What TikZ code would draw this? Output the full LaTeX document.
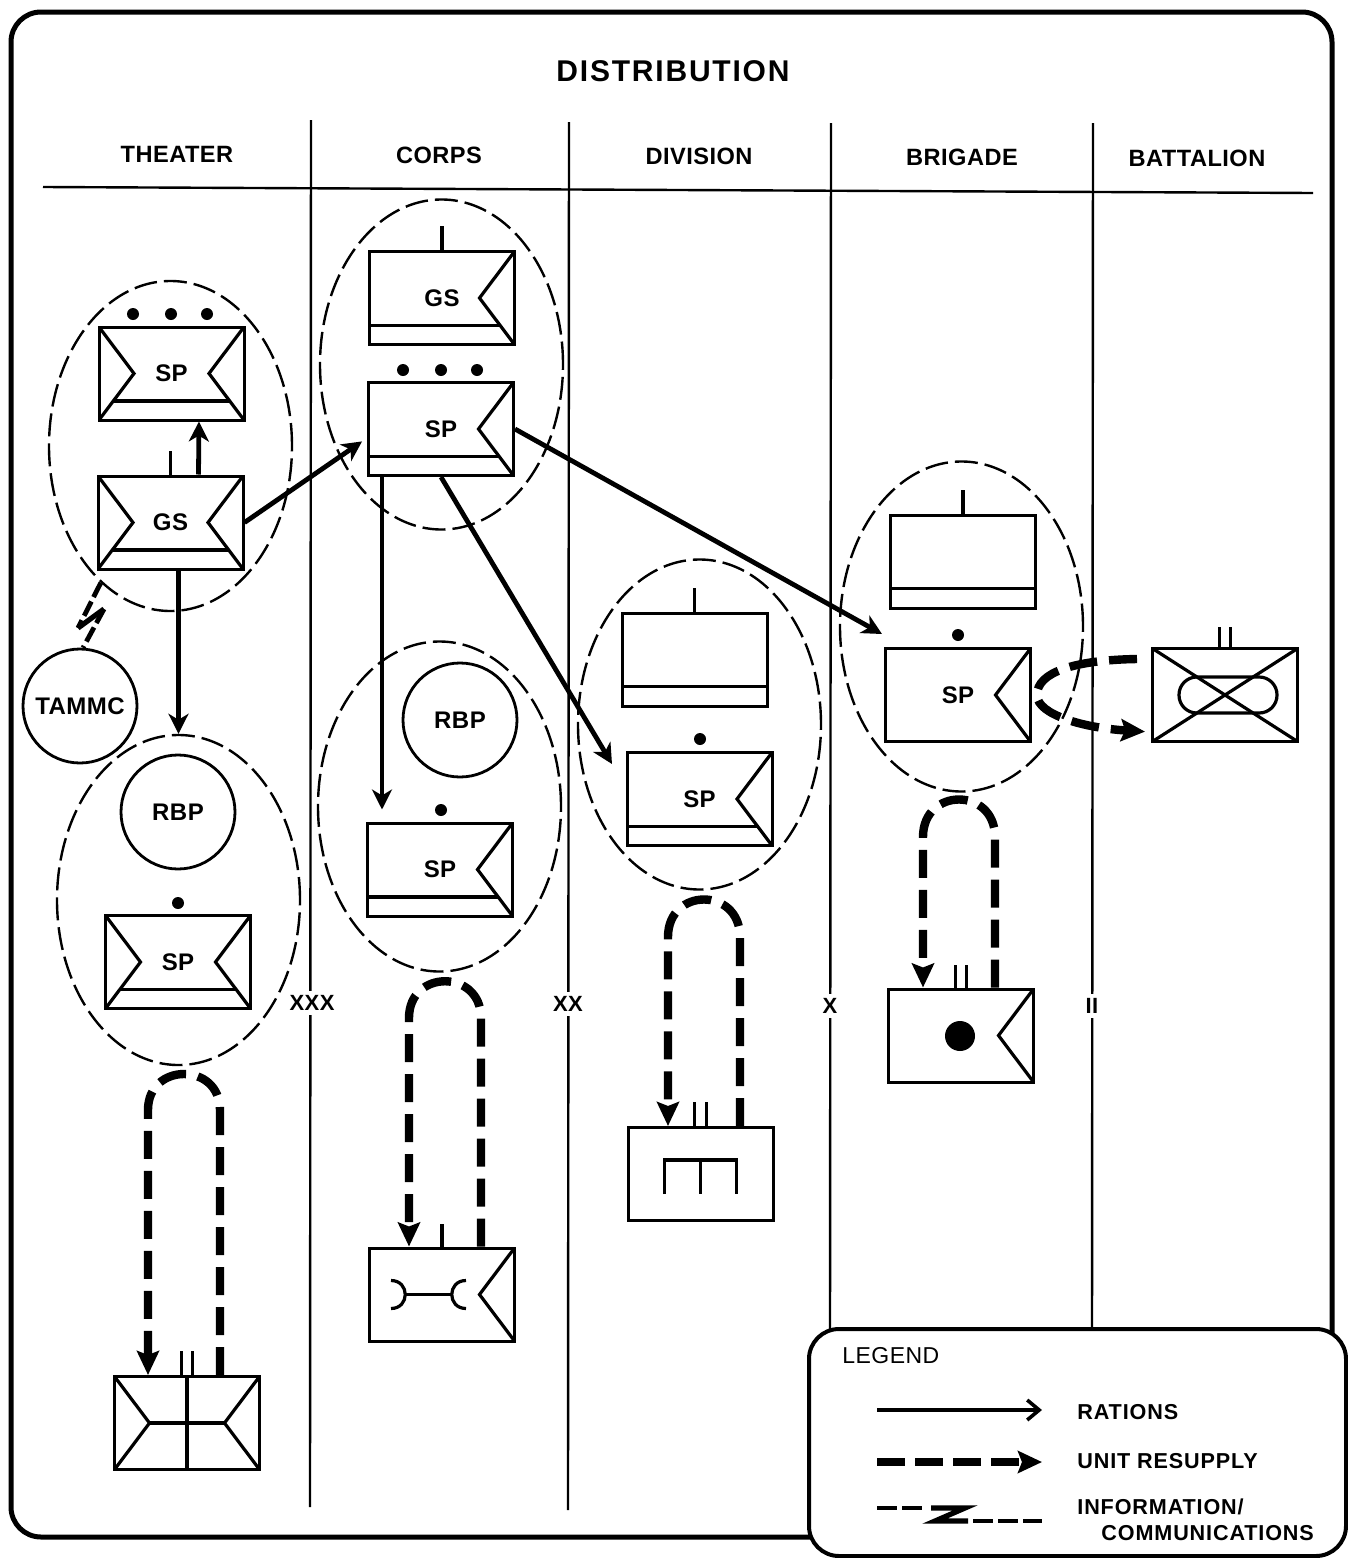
\documentclass[tikz,border=0pt]{standalone}
\usepackage{fontspec}
\setmainfont{Liberation Sans}[LetterSpace=2]
\newfontfamily\titlefont{Liberation Sans}[LetterSpace=6]
\newfontfamily\keyfont{Liberation Sans}[LetterSpace=4]
\usetikzlibrary{shapes,shapes.geometric,arrows,arrows.meta,positioning,calc}

\newcommand{\notchright}{\draw[symb] (path picture bounding box.north east) -- ([xshift=-17.5pt]path picture bounding box.east) -- (path picture bounding box.south east);}
\newcommand{\notchleft}{\draw[symb] (path picture bounding box.north west) -- ([xshift=17.5pt]path picture bounding box.west) -- (path picture bounding box.south west);}
\newcommand{\barinner}{\draw[symb] ([xshift=7.25pt,yshift=-13.75pt]path picture bounding box.west) -- ([xshift=-7.25pt,yshift=-13.75pt]path picture bounding box.east);}
\newcommand{\barright}{\draw[symb] ([yshift=-13.75pt]path picture bounding box.west) -- ([xshift=-7.25pt,yshift=-13.75pt]path picture bounding box.east);}
\newcommand{\barfull}{\draw[symb] ([yshift=-13.5pt]path picture bounding box.west) -- ([yshift=-13.5pt]path picture bounding box.east);}

\begin{document}
\begin{tikzpicture}[
    x=0.5pt, y=-0.5pt,
    symb/.style={line width=1.6pt},
    unit/.style={draw, rectangle, line width=1.5pt, minimum width=72.5pt, minimum height=46.5pt, inner sep=0pt, font=\fontsize{12}{14}\selectfont\bfseries},
    twonotch/.style={unit, path picture={\notchleft\notchright\barinner}},
    onenotch/.style={unit, path picture={\notchright\barright}},
    plainbar/.style={unit, path picture={\barfull}},
    zone/.style={draw, ellipse, dashed, dash pattern=on 11.5pt off 3.5pt, line width=1.2pt, inner sep=0pt, minimum width=121.5pt, minimum height=165pt},
    round/.style={draw, circle, line width=1.4pt, inner sep=0pt, minimum size=57pt, font=\fontsize{12}{14}\selectfont\bfseries},
    dot/.style={fill=black, circle, inner sep=0pt, minimum size=6pt},
    head/.style={font=\fontsize{11.8}{14}\selectfont\bfseries},
    level/.style={fill=white, inner sep=2pt, font=\fontsize{11}{14}\selectfont\bfseries},
    key/.style={anchor=west, inner sep=0pt, font=\keyfont\fontsize{10.8}{13}\selectfont\bfseries},
    rule/.style={line width=1.2pt},
    ration/.style={draw, line width=2.4pt, -{Stealth[length=10pt,width=10pt,inset=3pt]}},
    resupply/.style={draw, line width=4.2pt, dash pattern=on 14pt off 6pt, -{Stealth[length=12pt,width=11pt,inset=2pt]}},
    info/.style={draw, line width=2.4pt, dash pattern=on 8pt off 2.5pt},
    zig/.style={draw, line width=2.6pt}
]
\useasboundingbox (0,0) rectangle (1348,1558);

% outer frame and columns
\node[draw, rectangle, rounded corners=15pt, line width=2.5pt, minimum width=660.5pt, minimum height=762.5pt] (frame) at (671.5,774.5) {};
\node[font=\titlefont\fontsize{15}{18}\selectfont\bfseries] (title) at (673,71) {DISTRIBUTION};
\node[head] (theater) at (177,154) {THEATER};
\node[head] (corps) at (439,155) {CORPS};
\node[head] (division) at (699,156) {DIVISION};
\node[head] (brigade) at (962,157) {BRIGADE};
\node[head] (battalion) at (1197,158) {BATTALION};

\coordinate (ruleL) at (43,187);
\coordinate (ruleR) at (1313,193);
\draw[rule] (ruleL) -- (ruleR);
\coordinate (col1a) at (311,120);
\coordinate (col1b) at (310,1507);
\coordinate (col2a) at (569,122);
\coordinate (col2b) at (568,1510);
\coordinate (col3a) at (831,123);
\coordinate (col3b) at (830,1340);
\coordinate (col4a) at (1093,123);
\coordinate (col4b) at (1092,1340);
\draw[rule] (col1a) -- (col1b);
\draw[rule] (col2a) -- (col2b);
\draw[rule] (col3a) -- (col3b);
\draw[rule] (col4a) -- (col4b);
\node[level] (xxx) at (312,1003) {XXX};
\node[level] (xx) at (568,1004) {XX};
\node[level] (x) at (830,1006) {X};
\node[level] (ii) at (1092,1006) {II};

% support areas
\node[zone] (zoneTa) at (170.5,446) {};
\node[zone] (zoneTb) at (178.5,900) {};
\node[zone] (zoneCa) at (441.5,364.5) {};
\node[zone] (zoneCb) at (439.5,806.5) {};
\node[zone] (zoneD) at (699.5,724.5) {};
\node[zone] (zoneB) at (961.5,626.5) {};

% theater
\node[twonotch] (spTa) at (171.5,373.5) {SP};
\node[twonotch] (gsT) at (170.5,522.5) {GS};
\node[twonotch] (spTb) at (178,962) {SP};
\node[round] (tammc) at (80,706) {TAMMC};
\node[round] (rbpT) at (178,812) {RBP};
\node[dot] (dotTa) at (133,314) {};
\node[dot] (dotTb) at (171,314) {};
\node[dot] (dotTc) at (207,314) {};
\node[dot] (dotTd) at (178,903) {};
\draw[symb] (gsT.north) -- ++(0,-24);

% corps
\node[onenotch] (gsC) at (442,298) {GS};
\node[onenotch] (spCa) at (441,429) {SP};
\node[onenotch] (spCb) at (440,869.5) {SP};
\node[round] (rbpC) at (460,720) {RBP};
\node[dot] (dotCa) at (403,370) {};
\node[dot] (dotCb) at (441,370) {};
\node[dot] (dotCc) at (477,370) {};
\node[dot] (dotCd) at (441,810) {};
\draw[symb] (gsC.north) -- ++(0,-24);

% division and brigade
\node[plainbar] (hqD) at (694.5,659.5) {};
\node[onenotch] (spD) at (699.5,799) {SP};
\node[dot] (dotD) at (700,739) {};
\draw[symb] (hqD.north) -- ++(0,-24);
\node[plainbar] (hqB) at (963,561.5) {};
\node[unit, path picture={\notchright}] (spB) at (958,695) {SP};
\node[dot] (dotB) at (958,635) {};
\draw[symb] (hqB.north) -- ++(0,-24);

% battalion
\node[unit, path picture={
    \draw[symb] (path picture bounding box.north west) -- (path picture bounding box.south east);
    \draw[symb] (path picture bounding box.south west) -- (path picture bounding box.north east);
    \draw[symb, rounded corners=8.9pt] ([xshift=-23pt,yshift=9pt]path picture bounding box.center) rectangle ([xshift=26pt,yshift=-9pt]path picture bounding box.center);
}] (batU) at (1225,695) {};
\draw[symb] ([xshift=-2.75pt]batU.north) -- ++(0,-20);
\draw[symb] ([xshift=2.75pt]batU.north) -- ++(0,-20);

% customer units
\node[unit, path picture={\notchright}] (custB) at (961,1035.5) {};
\node[dot, minimum size=15pt] (custBdot) at (960,1036) {};
\draw[symb] ([xshift=-2.75pt]custB.north) -- ++(0,-23);
\draw[symb] ([xshift=2.75pt]custB.north) -- ++(0,-23);

\node[unit, path picture={
    \draw[symb] ([xshift=-18pt,yshift=-10pt]path picture bounding box.center) -- ([xshift=-18pt,yshift=7pt]path picture bounding box.center) -- ([xshift=18pt,yshift=7pt]path picture bounding box.center) -- ([xshift=18pt,yshift=-10pt]path picture bounding box.center);
    \draw[symb] ([yshift=7pt]path picture bounding box.center) -- ([yshift=-10pt]path picture bounding box.center);
}] (custD) at (700.5,1174) {};
\draw[symb] ([xshift=-3pt]custD.north) -- ++(0,-24);
\draw[symb] ([xshift=3pt]custD.north) -- ++(0,-24);

\node[unit, path picture={
    \notchright
    \draw[symb] ([xshift=-25.5pt,yshift=7pt]path picture bounding box.center) .. controls ([xshift=-16pt,yshift=7pt]path picture bounding box.center) and ([xshift=-16pt,yshift=-7pt]path picture bounding box.center) .. ([xshift=-25.5pt,yshift=-7pt]path picture bounding box.center);
    \draw[symb] ([xshift=12pt,yshift=7pt]path picture bounding box.center) .. controls ([xshift=2.5pt,yshift=7pt]path picture bounding box.center) and ([xshift=2.5pt,yshift=-7pt]path picture bounding box.center) .. ([xshift=12pt,yshift=-7pt]path picture bounding box.center);
    \draw[symb] ([xshift=-18.5pt]path picture bounding box.center) -- ([xshift=4.5pt]path picture bounding box.center);
}] (custC) at (442,1294.5) {};
\draw[symb] (custC.north) -- ++(0,-23);

\node[unit, path picture={
    \notchleft\notchright
    \draw[symb] ([xshift=17.5pt]path picture bounding box.west) -- ([xshift=-17.5pt]path picture bounding box.east);
    \draw[symb] (path picture bounding box.north) -- (path picture bounding box.south);
}] (custT) at (187,1423) {};
\draw[symb] ([xshift=-2.75pt]custT.north) -- ++(0,-24);
\draw[symb] ([xshift=2.75pt]custT.north) -- ++(0,-24);

% rations
\coordinate (tipD) at (612,764);
\coordinate (tipB) at (882,634);
\draw[ration] ([xshift=14pt]gsT.north) -- ([xshift=13.75pt]spTa.south);
\draw[ration, shorten >=3pt] (gsT.east) -- ([yshift=-4.5pt]spCa.west);
\draw[ration] (zoneTb.north |- gsT.south) -- (zoneTb.north);
\draw[ration, shorten >=6pt] ([xshift=-29.5pt]spCa.south) -- ([xshift=-29pt]spCb.north);
\draw[ration] (spCa.south) -- (tipD);
\draw[ration] (spCa.east) -- (tipB);

% unit resupply
\draw[resupply] ([xshift=16.5pt]custT.north) -- (220,1110) .. controls (220,1062) and (148,1062) .. (148,1110) -- ([xshift=-19.5pt]custT.north);
\draw[resupply] ([xshift=19.5pt]custC.north) -- (481,1018) .. controls (481,969) and (409,969) .. (409,1018) -- ([xshift=-16.5pt]custC.north);
\draw[resupply] ([xshift=19.75pt]custD.north) -- (740,937) .. controls (740,887) and (668,887) .. (668,937) -- ([xshift=-16.25pt]custD.north);
\draw[resupply] ([xshift=17pt]custB.north) -- (995,837) .. controls (995,787) and (923,787) .. (923,837) -- ([xshift=-19pt]custB.north);
\coordinate (loopStart) at (1137,659);
\draw[resupply, shorten >=3pt] (loopStart) .. controls (1075,660) and (1037,672) .. (1037,695) .. controls (1037,715) and (1085,728) .. ([yshift=-18.5pt]batU.west);

% information
\coordinate (boltA) at (78,628);
\coordinate (boltB) at (104,609);
\draw[info] (zoneTa.243) -- (boltA);
\draw[zig] (boltA) -- (boltB);
\draw[info] (boltB) -- (tammc.87);

% legend
\node[draw, rectangle, fill=white, rounded corners=15pt, line width=2pt, minimum width=268.5pt, minimum height=113.5pt] (legend) at (1077.5,1442.5) {};
\node[anchor=west, inner sep=0pt, font=\fontsize{11.5}{14}\selectfont] (legendT) at (842,1356) {LEGEND};
\node[key] (keyA) at (1077,1412) {RATIONS};
\node[key] (keyB) at (1077,1461) {UNIT RESUPPLY};
\node[key] (keyC) at (1077,1507) {INFORMATION/};
\node[key] (keyD) at (1101,1533) {COMMUNICATIONS};
\coordinate (keyAa) at (877,1410);
\coordinate (keyAb) at (1042,1410);
\coordinate (keyBa) at (877,1462);
\coordinate (keyBb) at (1042,1462);
\coordinate (keyCa) at (877,1508);
\coordinate (keyCb) at (926,1508);
\coordinate (keyCc) at (931,1508);
\coordinate (keyCd) at (965,1508);
\coordinate (keyCe) at (935,1521);
\coordinate (keyCf) at (968,1521);
\coordinate (keyCg) at (973,1521);
\coordinate (keyCh) at (1042,1521);
\draw[line width=1.8pt, -{Straight Barb[length=6pt,width=10pt]}] (keyAa) -- (keyAb);
\draw[resupply, line width=3.6pt, dash pattern=on 14pt off 5pt] (keyBa) -- (keyBb);
\draw[info, line width=2.2pt, dash pattern=on 10pt off 2.5pt] (keyCa) -- (keyCb);
\draw[zig] (keyCc) -- (keyCd) -- (keyCe) -- (keyCf);
\draw[info, line width=2.2pt, dash pattern=on 10pt off 2.5pt] (keyCg) -- (keyCh);

\end{tikzpicture}
\end{document}
